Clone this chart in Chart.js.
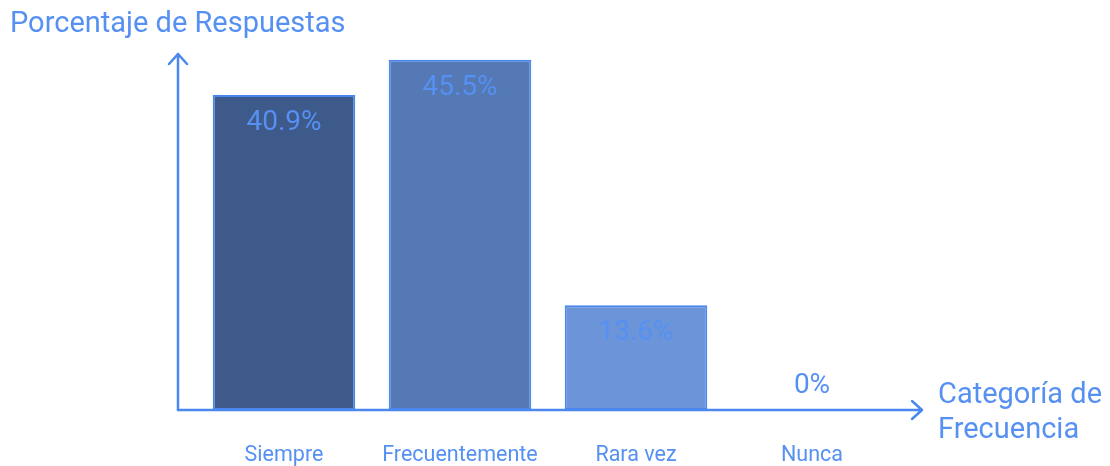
<!DOCTYPE html>
<html>
<head>
<meta charset="utf-8">
<script src="https://cdn.jsdelivr.net/npm/chart.js@4"></script>
<style>
  html, body { margin: 0; padding: 0; background: #fff; }
  #wrap { width: 1110px; height: 466px; }
</style>
</head>
<body>
<div id="wrap"><canvas id="freqChart" width="1110" height="466"></canvas></div>
<script>
const categories = ['Siempre', 'Frecuentemente', 'Rara vez', 'Nunca'];
const percentages = [40.9, 45.5, 13.6, 0];
const valueLabels = ['40.9%', '45.5%', '13.6%', '0%'];
const barColors = ['#3e5a8a', '#5479b4', '#6b95d8', '#6b95d8'];
const yTitle = 'Porcentaje de Respuestas';
const xTitle = ['Categoría de', 'Frecuencia'];

const blue = '#4a88f0';
const textBlue = '#5590f2';
const font = 'Roboto, "Noto Sans", sans-serif';

// arrows, titles and labels drawn on top of the bars
const axisDecor = {
  id: 'axisDecor',
  afterDatasetsDraw(chart) {
    const { ctx, chartArea: a, scales: { x, y } } = chart;
    const y0 = y.getPixelForValue(0);
    const ax = a.left - 18;
    ctx.save();
    ctx.strokeStyle = blue;
    ctx.lineWidth = 2.5;
    ctx.lineCap = 'round';
    ctx.lineJoin = 'round';
    // vertical axis
    ctx.beginPath();
    ctx.moveTo(ax, y0);
    ctx.lineTo(ax, 54);
    ctx.moveTo(ax - 9, 64);
    ctx.lineTo(ax, 54);
    ctx.lineTo(ax + 9, 64);
    ctx.stroke();
    // horizontal axis
    const tip = a.right + 22;
    ctx.beginPath();
    ctx.moveTo(ax, y0);
    ctx.lineTo(tip, y0);
    ctx.moveTo(tip - 10, y0 - 9);
    ctx.lineTo(tip, y0);
    ctx.lineTo(tip - 10, y0 + 9);
    ctx.stroke();

    ctx.fillStyle = textBlue;
    ctx.textAlign = 'center';
    ctx.textBaseline = 'middle';
    // value labels
    ctx.font = '28px ' + font;
    const meta = chart.getDatasetMeta(0);
    meta.data.forEach((bar, i) => {
      const ly = percentages[i] > 0 ? bar.y + 28 : y0 - 24;
      ctx.fillText(valueLabels[i], bar.x, ly);
    });
    // category labels
    ctx.font = '21.5px ' + font;
    categories.forEach((c, i) => {
      ctx.fillText(c, x.getPixelForValue(i), y0 + 46);
    });
    // axis titles
    ctx.font = '29px ' + font;
    ctx.textAlign = 'left';
    ctx.fillText(yTitle, 10, 25);
    ctx.fillText(xTitle[0], tip + 16, y0 - 14);
    ctx.fillText(xTitle[1], tip + 16, y0 + 21);
    ctx.restore();
  }
};

new Chart(document.getElementById('freqChart'), {
  type: 'bar',
  data: {
    labels: categories,
    datasets: [{
      data: percentages,
      backgroundColor: barColors,
      borderColor: blue,
      borderWidth: 2,
      borderSkipped: false,
      categoryPercentage: 1,
      barPercentage: 0.81
    }]
  },
  options: {
    responsive: false,
    animation: false,
    layout: { padding: { left: 196, right: 210, top: 25, bottom: 56 } },
    plugins: { legend: { display: false }, tooltip: { enabled: false } },
    scales: {
      x: { display: false },
      y: { display: false, min: 0, max: 50 }
    }
  },
  plugins: [axisDecor]
});
</script>
</body>
</html>
